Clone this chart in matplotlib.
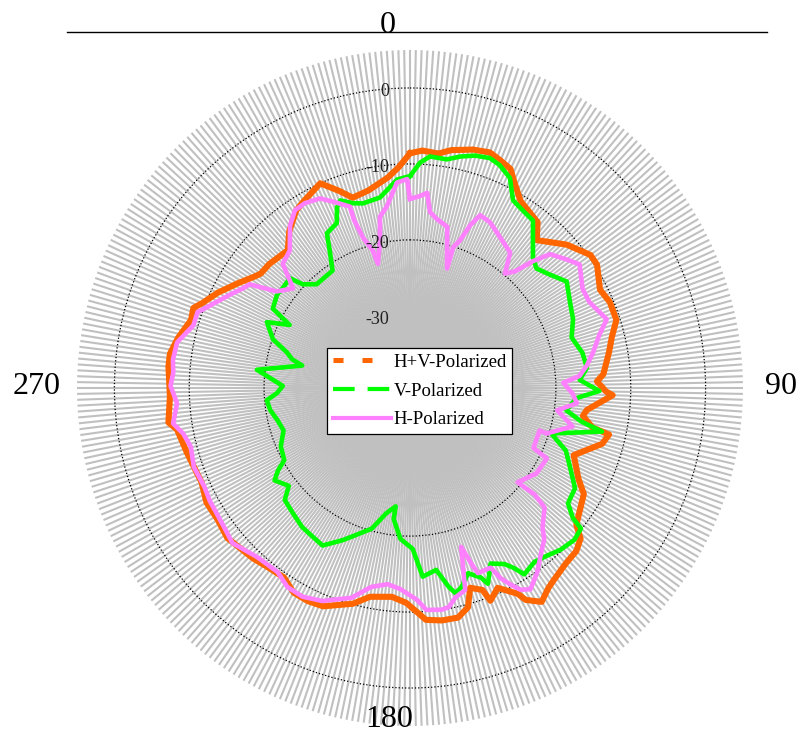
import numpy as np
import matplotlib
matplotlib.use("Agg")
import matplotlib.pyplot as plt
from matplotlib.lines import Line2D
from matplotlib.transforms import ScaledTranslation

SERIF = "Liberation Serif"

# angle in degrees (0 at top, clockwise) and level in dB
theta_hv = [0, 3, 7, 10, 15, 19, 22, 25, 27, 31, 38, 41, 48, 54, 57, 63, 67, 72, 76, 80,
            86, 88, 91, 92, 97, 99, 102, 103, 106, 112, 118, 121, 129, 131, 134, 138, 143, 145, 148, 151,
            152, 154, 156, 159, 160, 163, 165, 168, 172, 176, 178, 181, 185, 191, 195, 202, 206, 210, 214, 219,
            223, 231, 236, 241, 246, 254, 260, 262, 268, 275, 278, 282, 287, 290, 292, 296, 301, 305, 307, 311,
            318, 322, 327, 330, 336, 340, 343, 348, 354, 357, 360]
hv_db = [-8.6, -8.2, -8.4, -7.7, -7.0, -6.7, -7.2, -7.7, -8.9, -10.8, -11.8, -13.7, -11.3, -9.7, -9.7, -11.0, -10.5, -10.5, -11.7, -12.5,
         -13.6, -14.5, -13.3, -12.4, -15.7, -16.1, -14.6, -12.2, -12.8, -15.9, -14.0, -12.4, -10.9, -9.3, -8.6, -8.4, -7.7, -7.3, -6.3, -7.6,
         -8.8, -9.8, -10.7, -9.5, -11.2, -12.0, -9.6, -8.6, -8.6, -8.9, -9.9, -11.2, -11.9, -11.5, -10.1, -8.5, -8.3, -8.4, -9.4, -9.2,
         -8.8, -8.1, -8.5, -8.4, -9.0, -8.5, -7.9, -6.9, -7.4, -7.1, -7.1, -7.8, -8.9, -8.7, -9.6, -10.9, -12.7, -14.0, -14.5, -14.6,
         -15.1, -13.3, -11.6, -11.1, -10.0, -11.9, -13.3, -12.9, -11.6, -10.4, -8.6]

theta_v = [0, 2.6, 5.0, 9.3, 12.4, 15.8, 19.4, 22.2, 25.8, 29.1, 32.9, 36.7, 40.3, 43.9, 47.1, 51.3, 56.2, 62.0, 67.4, 72.9,
           78.6, 83.6, 87.3, 90.9, 93.4, 98.0, 100.9, 102.6, 107.6, 111.6, 116.3, 120.9, 125.7, 128.2, 129.0, 132.3, 136.6, 140.2, 144.0, 148.1,
           149.6, 151.4, 155.0, 158.0, 159.2, 162.3, 165.3, 167.3, 168.8, 171.7, 176.1, 179.0, 183.7, 187.2, 187.0, 190.9, 195.4, 201.5, 204.3, 209.4,
           213.7, 218.2, 223.8, 228.6, 231.5, 236.1, 238.4, 240.5, 246.0, 251.7, 256.5, 261.1, 265.2, 267.8, 270.9, 273.3, 276.7, 281.6, 283.5, 285.9,
           289.3, 294.4, 297.3, 299.7, 304.7, 307.7, 312.0, 313.6, 317.6, 326.2, 329.4, 331.4, 335.7, 337.7, 339.3, 342.6, 345.5, 350.9, 356.4, 360]
v_db = [-11.6, -9.8, -8.9, -9.0, -8.3, -7.7, -7.4, -7.8, -8.8, -11.2, -11.7, -12.0, -14.1, -15.8, -16.4, -15.6, -14.3, -15.3, -15.9, -16.9,
        -16.0, -15.7, -16.8, -14.2, -17.2, -18.4, -16.2, -13.2, -19.7, -17.1, -15.6, -13.8, -13.5, -11.8, -10.1, -9.8, -10.2, -10.8, -11.2, -10.6,
        -12.0, -13.1, -14.0, -11.7, -12.8, -13.9, -12.4, -11.8, -12.8, -15.3, -14.6, -18.3, -19.6, -22.1, -23.8, -22.7, -20.3, -18.5, -17.5, -15.7,
        -16.0, -16.2, -16.8, -17.2, -18.8, -17.7, -18.8, -20.2, -20.6, -21.7, -21.3, -20.6, -20.3, -21.7, -22.5, -21.2, -18.9, -24.8, -23.3, -22.4,
        -20.1, -18.5, -21.4, -18.4, -17.9, -18.0, -17.9, -19.7, -21.0, -20.9, -18.4, -16.3, -15.7, -13.8, -13.1, -14.0, -14.4, -14.1, -12.0, -11.6]

theta_h = [0, 3.0, 5.1, 6.6, 9.3, 13.2, 15.3, 17.5, 17.3, 19.0, 20.6, 22.4, 26.1, 31.3, 36.9, 40.1, 42.4, 44.5, 46.7, 51.0,
           54.3, 60.5, 64.7, 71.0, 74.7, 79.2, 82.9, 86.0, 88.1, 91.8, 95.1, 98.5, 101.5, 103.1, 108.2, 107.9, 115.6, 116.9, 123.6, 130.8,
           130.1, 131.2, 136.0, 138.0, 141.6, 144.9, 148.7, 150.9, 152.5, 154.2, 155.5, 159.6, 160.5, 161.9, 164.5, 167.5, 169.8, 171.7, 175.7, 178.1,
           182.8, 186.6, 191.2, 195.8, 202.7, 207.6, 212.0, 216.1, 222.4, 229.3, 234.6, 241.0, 244.7, 250.2, 255.2, 258.8, 261.6, 266.3, 270.5, 273.6,
           276.7, 280.9, 283.9, 285.9, 289.4, 290.6, 297.1, 300.4, 302.5, 305.5, 310.0, 313.9, 318.4, 323.1, 326.7, 330.0, 334.3, 338.1, 341.4, 341.3,
           342.4, 344.7, 345.3, 348.3, 349.9, 352.6, 356.3, 359.2, 360]
h_db = [-14.6, -14.2, -13.7, -16.2, -17.0, -17.7, -20.7, -23.0, -20.1, -18.9, -16.6, -14.9, -15.2, -16.3, -17.2, -19.8, -18.7, -16.1, -13.8, -12.6,
        -11.6, -13.0, -13.0, -11.7, -13.3, -14.6, -15.7, -16.8, -19.0, -17.8, -17.1, -19.6, -18.1, -17.2, -20.3, -21.3, -21.2, -19.0, -19.2, -20.5,
        -17.7, -15.6, -14.0, -12.7, -11.4, -9.9, -8.5, -9.1, -10.3, -11.7, -13.5, -13.5, -15.0, -17.5, -11.9, -11.3, -10.2, -10.0, -10.2, -11.6,
        -13.0, -13.5, -12.8, -10.8, -9.1, -8.5, -8.6, -9.5, -9.3, -8.2, -8.7, -8.9, -9.1, -8.8, -9.2, -8.6, -7.5, -8.3, -7.5, -7.8,
        -7.6, -7.8, -8.8, -9.4, -9.4, -10.0, -12.5, -13.6, -14.1, -17.6, -19.1, -15.9, -15.3, -12.8, -11.5, -11.4, -11.8, -13.2, -14.3, -16.1,
        -18.7, -20.8, -22.6, -19.7, -16.6, -15.4, -12.4, -12.0, -14.6]

ring_levels = [-30, -20, -10, 0]
ring_labels = ["-30", "-20", "-10", "0"]
series_names = ["H+V-Polarized", "V-Polarized", "H-Polarized"]
series_colors = ["#ff6600", "#00ff00", "#ff80ff"]

W, H = 805, 733
fig = plt.figure(figsize=(W / 100, H / 100), dpi=100)
ax = fig.add_axes([77 / W, 7 / H, 666 / W, 676 / H], projection="polar")
ax.set_theta_zero_location("N")
ax.set_theta_direction(-1)
ax.set_ylim(-39.5, 5)
ax.set_aspect("auto")
ax.set_axisbelow(True)

# dense radial grid, one spoke per degree
ax.set_xticks(np.deg2rad(np.arange(0, 360, 1)))
ax.set_xticklabels([])
ax.xaxis.grid(True, color="#c0c0c0", linewidth=1.5)
# the innermost ring disappears in the grey hub, so only the outer three are drawn
ax.set_yticks(ring_levels[1:])
ax.set_yticklabels([])
ax.yaxis.grid(True, color="black", linewidth=0.9, linestyle=(0, (1, 1.6)))
ax.spines["polar"].set_visible(False)
ax.tick_params(length=0)

ax.plot(np.deg2rad(theta_hv), hv_db, color=series_colors[0], lw=4.4, zorder=3)
ax.plot(np.deg2rad(theta_v), v_db, color=series_colors[1], lw=3.3, zorder=4)
ax.plot(np.deg2rad(theta_h), h_db, color=series_colors[2], lw=3.3, zorder=5)

# ring labels just left of the top
shift = ScaledTranslation(-21 / 100, -8 / 100, fig.dpi_scale_trans)
for lev, lab in zip(ring_levels, ring_labels):
    ax.text(0, lev, lab, ha="right", va="baseline", fontsize=13,
            family=SERIF, color="#202020", transform=ax.transData + shift, zorder=6)

# compass labels
for x, y, lab in [(388, 33, "0"), (781, 394, "90"), (389, 727, "180"), (37, 394, "270")]:
    fig.text(x / W, 1 - y / H, lab, ha="center", va="baseline",
             fontsize=23, family=SERIF, color="black")

# line across the top
fig.add_artist(Line2D([67 / W, 767 / W], [1 - 32 / H, 1 - 32 / H],
                      transform=fig.transFigure, color="black", lw=1.0))

handles = [
    Line2D([], [], color=series_colors[0], lw=3.6, dashes=(2.0, 3.8)),
    Line2D([], [], color=series_colors[1], lw=3.0, dashes=(5.2, 3.1)),
    Line2D([], [], color=series_colors[2], lw=3.0),
]
leg = fig.legend(handles, series_names, loc="upper left",
                 bbox_to_anchor=(327 / W, 1 - 348 / H), bbox_transform=fig.transFigure,
                 prop={"family": SERIF, "size": 13.5}, frameon=True, fancybox=False,
                 framealpha=1, edgecolor="black", borderpad=0.3, borderaxespad=0,
                 handlelength=3.1, handletextpad=0.15, labelspacing=0.62)
leg.get_frame().set_linewidth(0.9)

fig.savefig("out.png", dpi=100)
